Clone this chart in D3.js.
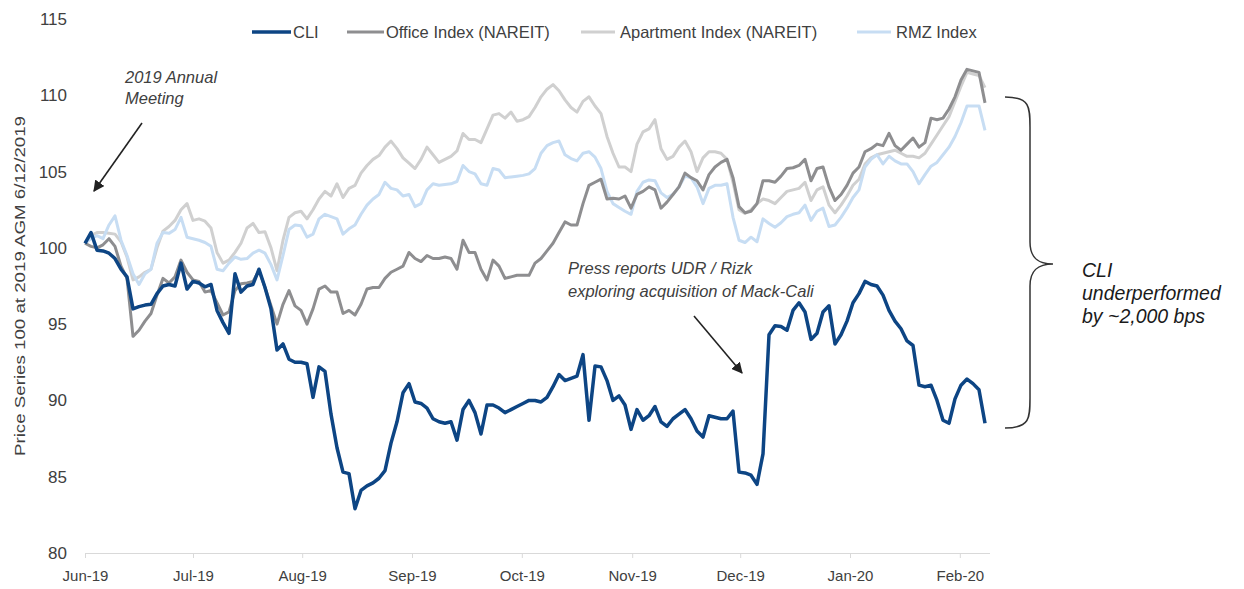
<!DOCTYPE html>
<html>
<head>
    <title>CLI vs. REIT Indices</title>
    <script src="https://d3js.org/d3.v7.min.js"></script>
    <style>
        body {
            margin: 0;
            background: #ffffff;
            font-family: "Liberation Sans", Arial, sans-serif;
        }
        .axis text {
            fill: #404040;
            font-family: "Liberation Sans", Arial, sans-serif;
        }
        .axis path, .axis line {
            stroke: #d9d9d9;
        }
        .note {
            font-style: italic;
            fill: #404040;
            font-size: 16.5px;
        }
    </style>
</head>
<body>
    <div id="chart"></div>

    <script>
        // month labels and the trading-day index where each one sits
        const monthLabels = ["Jun-19", "Jul-19", "Aug-19", "Sep-19", "Oct-19", "Nov-19", "Dec-19", "Jan-20", "Feb-20"];
        const monthIndex = [0, 18, 36.2, 54.5, 72.8, 91.2, 109.2, 127.5, 145.8];
        const yTicks = [80, 85, 90, 95, 100, 105, 110, 115];

        const seriesNames = ["CLI", "Office Index (NAREIT)", "Apartment Index (NAREIT)", "RMZ Index"];

        const cli = [
            100.3, 101.0, 99.85, 99.8, 99.65, 99.3, 98.6, 98.1, 96.0, 96.15,
            96.25, 96.3, 97.0, 97.5, 97.6, 97.5, 99.0, 97.3, 97.8, 97.7,
            97.45, 97.6, 95.9, 95.1, 94.4, 98.3, 97.1, 97.5, 97.6, 98.6,
            97.4, 96.0, 93.3, 93.7, 92.7, 92.5, 92.5, 92.4, 90.2, 92.2,
            91.9, 89.1, 86.9, 85.3, 85.2, 82.9, 84.1, 84.4, 84.6, 84.9,
            85.4, 87.2, 88.6, 90.5, 91.1, 89.9, 89.8, 89.5, 88.8, 88.6,
            88.5, 88.6, 87.4, 89.4, 90.0, 89.2, 87.8, 89.7, 89.7, 89.5,
            89.2, 89.4, 89.6, 89.8, 90.0, 90.0, 89.9, 90.2, 90.9, 91.7,
            91.3, 91.45, 91.6, 93.0, 88.7, 92.25, 92.2, 91.3, 90.0, 90.3,
            89.7, 88.1, 89.4, 88.7, 89.0, 89.6, 88.6, 88.3, 88.8, 89.1,
            89.4, 88.8, 88.0, 87.6, 89.0, 88.9, 88.8, 88.8, 89.3, 85.3,
            85.25, 85.1, 84.5, 86.5, 94.3, 94.9, 94.85, 94.6, 95.9, 96.4,
            95.8, 94.0, 94.4, 95.8, 96.2, 93.7, 94.3, 95.2, 96.4, 97.0,
            97.8, 97.6, 97.5, 96.9, 95.9, 95.2, 94.7, 93.9, 93.6, 91.0,
            90.9, 91.0, 90.0, 88.7, 88.5, 90.1, 91.0, 91.4, 91.1, 90.7,
            88.5
        ];

        const office = [
            100.3, 100.1, 100.0, 100.2, 100.6, 100.1, 98.8, 98.0, 94.2, 94.6,
            95.2, 95.7, 96.9, 98.0, 97.7, 98.1, 99.2, 98.4, 97.9, 97.8,
            97.1, 97.2, 96.4, 95.6, 95.8, 97.2, 97.65, 97.7, 97.8, 98.5,
            97.4, 96.2, 95.0, 96.3, 97.2, 96.2, 95.9, 95.0, 96.0, 97.3,
            97.5, 97.1, 97.1, 95.7, 95.9, 95.6, 96.3, 97.3, 97.4, 97.4,
            98.0, 98.4, 98.6, 98.8, 99.7, 99.3, 99.1, 99.5, 99.3, 99.3,
            99.4, 99.3, 98.6, 100.5, 99.7, 99.7, 98.6, 97.9, 99.2, 98.8,
            98.0, 98.1, 98.2, 98.2, 98.2, 99.0, 99.3, 99.8, 100.3, 101.0,
            101.7, 101.5, 101.5, 102.9, 104.1, 104.3, 104.5, 103.2, 103.25, 103.2,
            103.4, 102.6, 103.5, 103.7, 104.0, 103.8, 102.6, 103.0, 103.5, 104.0,
            104.9, 104.6, 104.4, 103.8, 104.8, 105.3, 105.6, 105.8, 104.6, 102.7,
            102.3, 102.4, 102.9, 104.4, 104.4, 104.3, 104.7, 105.2, 105.25, 105.4,
            105.8, 104.4, 105.2, 105.3, 104.0, 103.1, 103.5, 104.1, 104.9, 105.3,
            106.3, 106.5, 106.8, 106.7, 107.5, 106.7, 106.4, 106.8, 107.2, 106.6,
            106.9, 108.5, 108.4, 108.5, 109.1, 109.9, 111.0, 111.7, 111.6, 111.5,
            109.5
        ];

        const apartment = [
            100.3, 100.8, 101.0, 101.0, 100.95, 100.9, 100.4, 99.4, 97.9, 98.1,
            98.4, 98.6, 100.0, 101.1, 101.4, 101.8, 102.5, 102.9, 101.8, 101.9,
            101.75, 101.3, 99.7, 99.0, 99.2, 99.7, 100.3, 101.3, 101.6, 101.0,
            101.05, 100.0, 98.5, 100.5, 102.0, 102.3, 102.4, 101.9, 102.5, 103.2,
            103.7, 103.4, 104.2, 103.3, 103.9, 104.1, 104.9, 105.4, 105.8, 106.05,
            106.6, 107.0, 106.5, 105.9, 105.55, 105.2, 105.8, 106.6, 106.1, 105.6,
            105.8, 106.0, 106.35, 107.5, 107.1, 107.1, 106.9, 107.8, 108.7, 108.8,
            108.5, 108.9, 108.3, 108.4, 108.6, 109.2, 109.9, 110.4, 110.7, 110.3,
            109.7, 109.2, 108.9, 109.6, 109.9, 109.3, 108.8, 107.3, 106.2, 105.3,
            105.3, 105.0, 106.8, 107.6, 107.8, 108.4, 106.5, 105.8, 106.0, 106.6,
            107.0, 106.3, 105.0, 105.9, 106.3, 106.3, 106.2, 105.8, 104.3, 102.5,
            102.25, 102.5, 102.9, 103.2, 103.1, 102.9, 103.3, 103.7, 103.8, 103.9,
            104.3, 103.1, 103.8, 104.0, 102.8, 102.3, 102.8, 103.4, 104.1, 104.5,
            105.5, 105.9, 106.1, 106.2, 106.3, 106.4, 106.2, 106.0, 106.0, 105.9,
            106.2, 106.8, 107.4, 108.0, 108.6, 109.6, 110.6, 111.5, 111.4, 111.3,
            110.5
        ];

        const rmz = [
            100.3, 100.6, 100.8, 100.6, 101.5, 102.1, 100.5, 99.5, 98.3, 97.6,
            98.3, 98.6, 100.3, 101.0, 100.95, 101.2, 102.0, 100.7, 100.6, 100.5,
            100.35, 100.1, 98.6, 98.5, 99.0, 99.4, 99.25, 99.3, 99.65, 99.85,
            99.65, 98.9, 97.9, 99.5, 101.2, 101.5, 101.45, 100.7, 100.9, 101.9,
            102.2, 102.05, 101.9, 100.9, 101.25, 101.5, 102.2, 102.8, 103.2, 103.5,
            104.3, 103.9, 103.8, 103.4, 103.5, 102.7, 102.9, 103.8, 104.2, 104.1,
            104.15, 104.2, 104.35, 105.4, 105.0, 104.85, 104.2, 104.1, 105.2, 105.1,
            104.6, 104.65, 104.7, 104.75, 104.85, 105.2, 106.2, 106.7, 106.9, 107.0,
            106.1, 105.85, 105.7, 106.2, 106.3, 105.95, 105.2, 103.7, 102.9, 102.65,
            102.4, 102.2, 103.7, 104.3, 104.45, 104.4, 103.6, 103.3, 103.5, 104.0,
            104.7, 104.6, 104.0, 102.9, 103.9, 104.1, 104.1, 104.2, 102.0, 100.5,
            100.35, 100.7, 100.4, 101.9, 101.6, 101.35, 101.65, 102.05, 102.2, 102.3,
            102.8, 101.8, 102.4, 102.6, 101.4, 101.5, 102.0, 102.6, 103.3, 103.8,
            105.3, 105.8, 106.1, 105.5, 106.0, 105.7, 105.5, 105.5, 105.0, 104.2,
            104.8, 105.35, 105.6, 106.1, 106.6, 107.3, 108.2, 109.3, 109.3, 109.3,
            107.7
        ];

        const width = 1244, height = 589;
        const plot = {left: 85, right: 985, top: 19, bottom: 553};

        var svg = d3.select("#chart").append("svg")
            .attr("width", width)
            .attr("height", height);

        var xScale = d3.scaleLinear().domain([0, cli.length - 1]).range([plot.left, plot.right]);
        var yScale = d3.scaleLinear().domain([80, 115]).range([plot.bottom, plot.top]);

        // series styling, drawn light lines first so CLI ends up on top
        var series = [
            {name: seriesNames[2], values: apartment, color: "#d0d0d0", width: 3},
            {name: seriesNames[3], values: rmz, color: "#c7ddf3", width: 3},
            {name: seriesNames[1], values: office, color: "#8e8e90", width: 3},
            {name: seriesNames[0], values: cli, color: "#0d4584", width: 3.5}
        ];

        // x axis
        var xAxis = svg.append("g")
            .attr("class", "axis")
            .attr("transform", "translate(0," + plot.bottom + ")")
            .call(d3.axisBottom(xScale)
                .tickValues(monthIndex)
                .tickFormat((d, i) => monthLabels[i])
                .tickSize(5)
                .tickSizeOuter(0)
                .tickPadding(12));
        xAxis.select(".domain").attr("d", "M" + plot.left + ",0.5H" + (plot.right + 5));
        xAxis.selectAll("text").style("font-size", "15px");

        // y axis, labels only
        var yAxis = svg.append("g")
            .attr("class", "axis")
            .attr("transform", "translate(" + plot.left + ",0)")
            .call(d3.axisLeft(yScale).tickValues(yTicks).tickSize(0).tickPadding(18));
        yAxis.select(".domain").remove();
        yAxis.selectAll("text").style("font-size", "17px");

        // Y-axis title
        svg.append("text")
            .attr("transform", "translate(25," + 286 + ") rotate(-90)")
            .style("text-anchor", "middle")
            .style("font-size", "15px")
            .style("fill", "#404040")
            .attr("textLength", 340)
            .attr("lengthAdjust", "spacingAndGlyphs")
            .text("Price Series 100 at 2019 AGM 6/12/2019");

        var line = d3.line()
            .x((d, i) => xScale(i))
            .y(d => yScale(d));

        svg.selectAll(".series")
            .data(series)
            .enter().append("path")
            .attr("class", "series")
            .attr("fill", "none")
            .attr("stroke", d => d.color)
            .attr("stroke-width", d => d.width)
            .attr("stroke-linejoin", "round")
            .attr("d", d => line(d.values));

        // legend
        var legendPos = [
            {sx: 252, sw: 39, tx: 293},
            {sx: 347, sw: 37, tx: 386},
            {sx: 581, sw: 34, tx: 620},
            {sx: 857, sw: 34, tx: 896}
        ];
        var legendOrder = [series[3], series[2], series[0], series[1]];
        legendOrder.forEach((s, i) => {
            var p = legendPos[i];
            svg.append("line")
                .attr("x1", p.sx).attr("x2", p.sx + p.sw)
                .attr("y1", 32).attr("y2", 32)
                .attr("stroke", s.color)
                .attr("stroke-width", s.width);
            svg.append("text")
                .attr("x", p.tx)
                .attr("y", 38)
                .style("font-size", "16.5px")
                .style("fill", "#404040")
                .text(s.name);
        });

        // arrow marker
        svg.append("defs").append("marker")
            .attr("id", "arrow")
            .attr("viewBox", "0 0 10 10")
            .attr("refX", 9).attr("refY", 5)
            .attr("markerWidth", 7).attr("markerHeight", 7)
            .attr("orient", "auto")
            .append("path")
            .attr("d", "M0,0L10,5L0,10z")
            .attr("fill", "#222");

        // 2019 Annual Meeting note
        svg.append("text").attr("class", "note").attr("x", 125).attr("y", 83).text("2019 Annual");
        svg.append("text").attr("class", "note").attr("x", 125).attr("y", 104).text("Meeting");
        svg.append("line")
            .attr("x1", 142).attr("y1", 123)
            .attr("x2", 94).attr("y2", 191)
            .attr("stroke", "#222").attr("stroke-width", 1.6)
            .attr("marker-end", "url(#arrow)");

        // UDR / Rizk note
        svg.append("text").attr("class", "note").attr("x", 568).attr("y", 274).text("Press reports UDR / Rizk");
        svg.append("text").attr("class", "note").attr("x", 568).attr("y", 297).text("exploring acquisition of Mack-Cali");
        svg.append("line")
            .attr("x1", 694).attr("y1", 316)
            .attr("x2", 742).attr("y2", 373)
            .attr("stroke", "#222").attr("stroke-width", 1.6)
            .attr("marker-end", "url(#arrow)");

        // brace on the right
        var bx = 1005, bTop = 97, bBottom = 428, bMid = 264, bTip = 1053, spine = 1030;
        svg.append("path")
            .attr("d", "M" + bx + "," + bTop +
                " C" + spine + "," + bTop + " " + spine + "," + (bTop + 10) + " " + spine + "," + (bTop + 30) +
                " L" + spine + "," + (bMid - 22) +
                " C" + spine + "," + (bMid - 6) + " " + (spine + 8) + "," + bMid + " " + bTip + "," + bMid +
                " C" + (spine + 8) + "," + bMid + " " + spine + "," + (bMid + 6) + " " + spine + "," + (bMid + 22) +
                " L" + spine + "," + (bBottom - 30) +
                " C" + spine + "," + (bBottom - 10) + " " + spine + "," + bBottom + " " + bx + "," + bBottom)
            .attr("fill", "none")
            .attr("stroke", "#333")
            .attr("stroke-width", 1.5);

        var braceText = ["CLI", "underperformed", "by ~2,000 bps"];
        braceText.forEach((t, i) => {
            svg.append("text")
                .attr("x", 1082)
                .attr("y", 277 + i * 23)
                .style("font-style", "italic")
                .style("font-size", "19.5px")
                .style("fill", "#1a1a1a")
                .text(t);
        });
    </script>
</body>
</html>
